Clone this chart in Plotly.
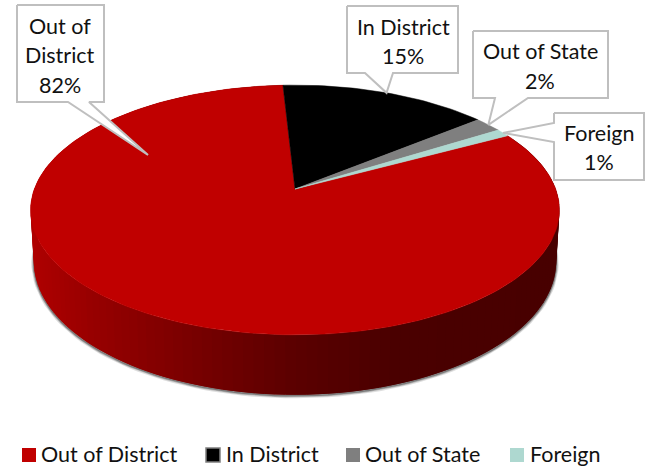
import math
import plotly.graph_objects as go

# slice data
categories = ["Out of District", "In District", "Out of State", "Foreign"]
values = [82, 15, 2, 1]
percent_labels = ["82%", "15%", "2%", "1%"]
slice_colors = ["#c00000", "#000000", "#7f7f7f", "#aed8d0"]

# fake 3D pie projection, in page pixels
APEX_X, APEX_Y = 295, 189
CAM_D = 5.95
SCALE_X, SCALE_Y = 1551, 722
DEPTH = 297
BOTTOM_SHRINK = 0.988
# In District starts a little left of the back of the pie
FIRST_ANGLE = -3.1

# x position -> side wall colour
side_stops = [(30, (176, 0, 0)), (100, (150, 0, 0)), (200, (120, 0, 0)),
              (295, (92, 0, 0)), (400, (74, 0, 0)), (560, (72, 0, 0))]


def rim(angle):
    """Project a rim point, angle in degrees clockwise from the back of the pie."""
    a = math.radians(angle)
    u, v = math.sin(a), -math.cos(a)
    return APEX_X + SCALE_X * u / (CAM_D - v), APEX_Y + SCALE_Y * v / (CAM_D - v)


def rim_bottom(angle):
    a = math.radians(angle)
    v = -math.cos(a)
    x, y = rim(angle)
    return APEX_X + (x - APEX_X) * BOTTOM_SHRINK, y + DEPTH / (CAM_D - v)


def side_color(x):
    for (x0, c0), (x1, c1) in zip(side_stops, side_stops[1:]):
        if x <= x1:
            t = max(0, (x - x0) / (x1 - x0))
            r, g, b = [round(p + (q - p) * t) for p, q in zip(c0, c1)]
            return f"rgb({r},{g},{b})"
    return "rgb(72,0,0)"


# angle range of each slice, In District first because it holds the start angle
order = [1, 2, 3, 0]
ranges = {}
start = FIRST_ANGLE
for i in order:
    ranges[i] = (start, start + values[i] * 3.6)
    start += values[i] * 3.6

fig = go.Figure()

# soft shadow under the wall
lo, hi = ranges[0]
n_side = 150
angles = [lo + (hi - lo) * k / n_side for k in range(n_side + 1)]
bottom = [rim_bottom(a) for a in angles]
for width, alpha in [(5, 0.2), (3, 0.35), (1.5, 0.6)]:
    fig.add_trace(go.Scatter(
        x=[p[0] for p in bottom], y=[p[1] + 1 for p in bottom], mode="lines",
        line=dict(color=f"rgba(90,90,90,{alpha})", width=width),
        hoverinfo="skip", showlegend=False))

# side wall of the big slice, strips overlap the next one so no seams show
for k in range(n_side):
    a0, a1 = angles[k], angles[min(k + 2, n_side)]
    pts = [rim(a0), rim(a1), rim_bottom(a1), rim_bottom(a0)]
    col = side_color((pts[0][0] + pts[3][0]) / 2)
    fig.add_trace(go.Scatter(
        x=[p[0] for p in pts] + [pts[0][0]], y=[p[1] for p in pts] + [pts[0][1]],
        mode="none", fill="toself", fillcolor=col,
        hoverinfo="skip", showlegend=False))

# top faces
for i in [0, 1, 2, 3]:
    lo, hi = ranges[i]
    steps = max(4, int((hi - lo) / 1.5))
    pts = [rim(lo + (hi - lo) * k / steps) for k in range(steps + 1)]
    fig.add_trace(go.Scatter(
        x=[APEX_X] + [p[0] for p in pts] + [APEX_X],
        y=[APEX_Y] + [p[1] for p in pts] + [APEX_Y],
        mode="lines", fill="toself", fillcolor=slice_colors[i],
        line=dict(color=slice_colors[i], width=0.5),
        name=categories[i], text=f"{categories[i]} {percent_labels[i]}",
        hoverinfo="text", showlegend=False))


def mid_rim(i):
    return rim(sum(ranges[i]) / 2)


# callouts: box outline with the pointer spliced in
callouts = [
    ((17, 5, 104, 102), [(89, 102), (148, 155), (68, 102)]),
    ((347, 6, 458, 73), [(393, 73), mid_rim(1), (365, 73)]),
    ((473, 31, 608, 98), [(528, 98), mid_rim(2), (495, 98)]),
]
for (x0, y0, x1, y1), pointer in callouts:
    xs = [x0, x1, x1] + [p[0] for p in pointer] + [x0, x0]
    ys = [y0, y0, y1] + [p[1] for p in pointer] + [y1, y0]
    fig.add_trace(go.Scatter(x=xs, y=ys, mode="lines", fill="toself", fillcolor="white",
                             line=dict(color="#bfbfbf", width=2), hoverinfo="skip",
                             showlegend=False))

# Foreign pointer comes out of the left side of its box
tip = mid_rim(3)
fig.add_trace(go.Scatter(
    x=[554, 644, 644, 554, 554, tip[0], 554, 554],
    y=[113, 113, 180, 180, 142, tip[1], 123, 113],
    mode="lines", fill="toself", fillcolor="white",
    line=dict(color="#bfbfbf", width=2), hoverinfo="skip", showlegend=False))

FONT = dict(family="Lato", size=21.5, color="#111111")


def add_text(x, y, text, anchor="center"):
    fig.add_annotation(x=x, y=y, text=text, showarrow=False, xref="x", yref="y",
                       xanchor=anchor, yanchor="middle", font=FONT)


# callout text, one line at a time so the spacing can follow the boxes
add_text(60, 26, "Out of")
add_text(60, 55, "District")
add_text(60, 85, percent_labels[0])
add_text(403, 27, categories[1])
add_text(403, 56, percent_labels[1])
add_text(540, 51, categories[2])
add_text(540, 81, percent_labels[2])
add_text(599, 133, categories[3])
add_text(599, 162, percent_labels[3])

# legend row
legend_swatch_x = [29, 213, 353, 517]
legend_text_x = [39, 224, 363, 528]
for i, name in enumerate(categories):
    fig.add_trace(go.Scatter(
        x=[legend_swatch_x[i]], y=[455], mode="markers",
        marker=dict(symbol="square", size=14, color=slice_colors[i],
                    line=dict(color="#7f7f7f" if i == 1 else slice_colors[i], width=1.5 if i == 1 else 0)),
        hoverinfo="skip", showlegend=False))
    add_text(legend_text_x[i], 454, name, anchor="left")

fig.update_layout(
    width=645, height=469, margin=dict(l=0, r=0, t=0, b=0),
    paper_bgcolor="white", plot_bgcolor="white", showlegend=False,
    xaxis=dict(range=[0, 645], visible=False, fixedrange=True),
    yaxis=dict(range=[469, 0], visible=False, fixedrange=True),
)

# drop the page's default body margin so the plot sits in the corner
fig.write_html("out.html", config={"displayModeBar": False},
               post_script="document.body.style.margin = '0';")
